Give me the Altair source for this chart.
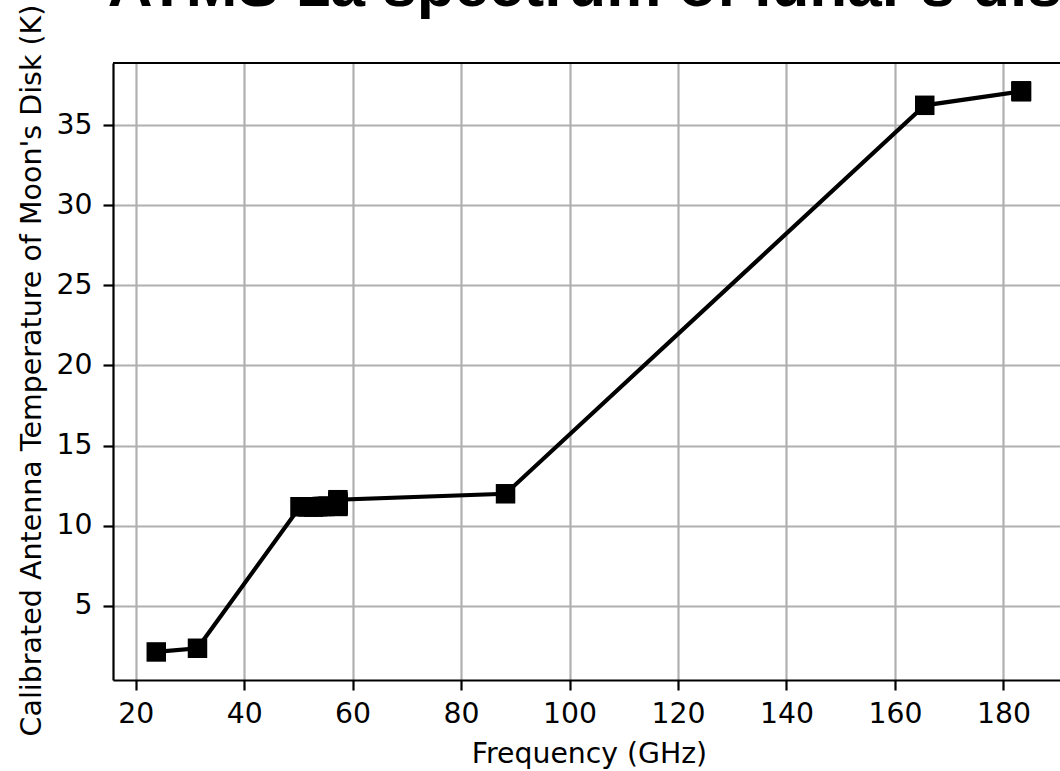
import altair as alt
import pandas as pd

# ATMS channel centre frequencies (GHz) and lunar disk antenna temperatures (K)
channel = list(range(1, 23))
frequency_ghz = [23.8, 31.4, 50.3, 51.76, 52.8, 53.596, 54.4, 54.94, 55.5,
                 57.29, 57.29, 57.29, 57.29, 57.29, 57.29,
                 88.2, 165.5, 183.31, 183.31, 183.31, 183.31, 183.31]
temperature_k = [2.12, 2.35, 11.18, 11.17, 11.16, 11.18, 11.2, 11.2, 11.22,
                 11.2, 11.25, 11.3, 11.4, 11.5, 11.62,
                 11.99, 36.23, 37.1, 37.12, 37.1, 37.08, 37.12]

x_ticks = [20, 40, 60, 80, 100, 120, 140, 160, 180]
y_ticks = [5, 10, 15, 20, 25, 30, 35]

df = pd.DataFrame({"ch": channel, "freq": frequency_ghz, "tb": temperature_k})

W, H = 947, 617
LABEL_FONT = "DejaVu Sans"
FS = 28.3

x_enc = alt.X(
    "freq:Q",
    scale=alt.Scale(domain=[15.82, 190.44], nice=False, zero=False),
    axis=alt.Axis(
        title="Frequency (GHz)", values=x_ticks, format="d",
        labelFont=LABEL_FONT, labelFontSize=FS, labelColor="black",
        labelPadding=10, tickSize=10, tickWidth=2.2, tickColor="black",
        domainColor="black", domainWidth=2.2,
        grid=True, gridColor="#b0b0b0", gridWidth=2.2,
        titleFont=LABEL_FONT, titleFontSize=FS, titleFontWeight="normal",
        titleColor="black", titleX=476, titleY=82,
        titleBaseline="alphabetic", titleAlign="center",
        labelFlush=False,
    ),
)
y_enc = alt.Y(
    "tb:Q",
    scale=alt.Scale(domain=[0.37, 38.87], nice=False, zero=False),
    axis=alt.Axis(
        title="Calibrated Antenna Temperature of Moon's Disk (K)",
        values=y_ticks, format="d",
        labelFont=LABEL_FONT, labelFontSize=FS, labelColor="black",
        labelPadding=11, tickSize=10, tickWidth=2.2, tickColor="black",
        domainColor="black", domainWidth=2.2,
        grid=True, gridColor="#b0b0b0", gridWidth=2.2,
        titleFont=LABEL_FONT, titleFontSize=28.5, titleFontWeight="normal",
        titleColor="black", titleAngle=270, titleX=-73, titleY=307,
        titleBaseline="alphabetic", titleAlign="center",
        labelFlush=False,
    ),
)

base = alt.Chart(df)

line = base.mark_line(color="black", strokeWidth=4.2).encode(
    x=x_enc, y=y_enc, order=alt.Order("ch:Q")
)
points = base.mark_square(color="black", size=380, opacity=1).encode(
    x="freq:Q", y="tb:Q"
)
# top spine of the axes frame
top_spine = base.mark_rule(color="black", strokeWidth=2.2).encode(
    x=alt.value(0), x2=alt.value(W), y=alt.value(0)
)

chart = (
    alt.layer(line, points, top_spine)
    .properties(
        width=W,
        height=H,
        padding={"left": 113, "top": 63, "right": 0, "bottom": 91},
        autosize=alt.AutoSizeParams(type="none"),
        title=alt.TitleParams(
            text="ATMS 1a spectrum of lunar's disk",
            font="Liberation Sans", fontSize=62, fontWeight="bold",
            color="black", anchor="middle", frame="group",
            baseline="alphabetic", offset=-63.5, dx=15.5,
        ),
    )
    .configure_view(strokeWidth=0)
    .configure(background="white")
)

chart.save("out.html", embed_options={"renderer": "svg", "actions": False})
